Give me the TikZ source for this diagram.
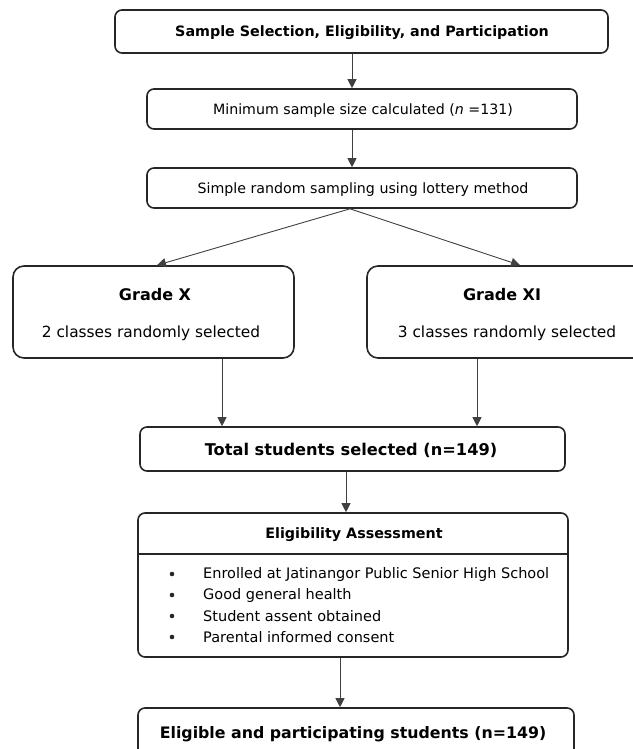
\documentclass[tikz,border=0pt]{standalone}
\usepackage{fontspec}
\setmainfont{DejaVu Sans}
\usetikzlibrary{arrows.meta}
\begin{document}
\begin{tikzpicture}[x=1pt,y=-1pt,
  box/.style={draw=black!85,line width=1.6pt,rounded corners=7pt,inner sep=0pt},
  bigbox/.style={box,rounded corners=11pt},
  arr/.style={draw=black!75,line width=0.9pt,-{Triangle[length=9pt,width=9pt]}},
  txt/.style={inner sep=0pt,anchor=center},
  bulletdot/.style={circle,fill=black!85,inner sep=0pt,minimum size=4.6pt}]
\useasboundingbox (0,0) rectangle (632,749);
% boxes
\node[box,minimum width=493pt,minimum height=43pt] (b1) at (361.5,31.5) {};
\node[txt,font=\fontsize{14.3}{16}\selectfont\bfseries] (t1) at (362,32.5) {Sample Selection, Eligibility, and Participation};
\node[box,minimum width=430pt,minimum height=40pt] (b2) at (362,109) {};
\node[txt,font=\fontsize{14.2}{16}\selectfont] (t2) at (363,111) {Minimum sample size calculated (\textit{n} =131)};
\node[box,minimum width=430pt,minimum height=40pt] (b3) at (362,188) {};
\node[txt,font=\fontsize{14.2}{16}\selectfont] (t3) at (363,190) {Simple random sampling using lottery method};
\node[bigbox,minimum width=281pt,minimum height=92pt] (gx) at (153.5,312) {};
\node[txt,font=\fontsize{16}{18}\selectfont\bfseries] (gxt) at (155,294.5) {Grade X};
\node[txt,font=\fontsize{15.4}{17}\selectfont] (gxs) at (151,333.5) {2 classes randomly selected};
\node[bigbox,minimum width=281pt,minimum height=92pt] (gy) at (507.5,312) {};
\node[txt,font=\fontsize{16}{18}\selectfont\bfseries] (gyt) at (502,294.5) {Grade XI};
\node[txt,font=\fontsize{15.4}{17}\selectfont] (gys) at (507,333.5) {3 classes randomly selected};
\node[box,minimum width=425pt,minimum height=44pt] (tot) at (352.5,449) {};
\node[txt,font=\fontsize{16.2}{18}\selectfont\bfseries] (tott) at (351,450.5) {Total students selected (n=149)};
\node[box,minimum width=430pt,minimum height=144pt] (el) at (353,585) {};
\draw[draw=black!85,line width=1.4pt] (el.west |- 0,554) coordinate (dl) -- (el.east |- 0,554) coordinate (dr);
\node[txt,font=\fontsize{14.3}{16}\selectfont\bfseries] (elh) at (354,534.5) {Eligibility Assessment};
\foreach \yy/\tt [count=\i] in {573/Enrolled at Jatinangor Public Senior High School,594/Good general health,615/Student assent obtained,636/Parental informed consent}{
  \node[bulletdot] (bul\i) at (172,\yy+1) {};
  \node[txt,anchor=west,font=\fontsize{14.5}{16}\selectfont] (it\i) at (203,\yy+1) {\tt};
}
\node[box,minimum width=436pt,minimum height=60pt] (fin) at (356,738) {};
\node[txt,font=\fontsize{15.8}{18}\selectfont\bfseries] (fint) at (353,734.5) {Eligible and participating students (n=149)};
% arrows
\draw[arr] (b1.south -| 352,0) -- (b2.north -| 352,0);
\draw[arr] (b2.south -| 352,0) -- (b3.north -| 352,0);
\coordinate (split) at (b3.south -| 350,0);
\draw[arr] (split) -- (gx.north -| 157,0);
\draw[arr] (split) -- (gy.north -| 520,0);
\draw[arr] (gx.south -| 222,0) -- (tot.north -| 222,0);
\draw[arr] (gy.south -| 477,0) -- (tot.north -| 477,0);
\draw[arr] (tot.south -| 346,0) -- (el.north -| 346,0);
\draw[arr] (el.south -| 340,0) -- (fin.north -| 340,0);
\end{tikzpicture}
\end{document}
